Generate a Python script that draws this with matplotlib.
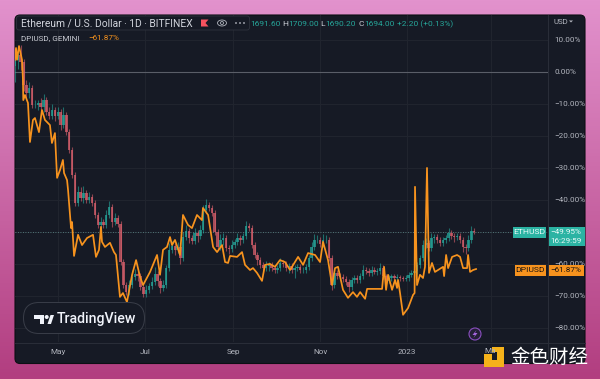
import numpy as np
import matplotlib
matplotlib.use("Agg")
import matplotlib.pyplot as plt
from matplotlib.patches import FancyBboxPatch, Rectangle, Circle, Polygon, Ellipse

plt.rcParams['font.family'] = ['Roboto', 'Noto Sans CJK SC', 'DejaVu Sans']

# ETH candles, one every 2 days, % change on the chart scale
eth_close = [3.8, 5.3, 3.1, -4, -6.5, -5, -10.3, -10.3, -9.7, -11,
             -8.8, -12.5, -13.8, -12, -13.8, -12.5, -16.5, -13.5, -18.8, -24.4,
             -32.2, -41, -37.5, -39.4, -37.8, -40, -39, -41, -44.7, -47.8,
             -46.9, -47.8, -44.7, -42.2, -46.9, -45.6, -47.5, -59.4, -66.6, -68.8,
             -66.6, -64, -63.1, -63.8, -67.2, -69.4, -68.1, -66.9, -65.6, -63.1,
             -65.3, -67.5, -66.6, -61.3, -55.6, -54.4, -55.6, -54.7, -58.1, -51.6,
             -49.7, -51.9, -52.8, -50.3, -51.2, -49.4, -43.1, -41.6, -42.5, -44,
             -50, -54.7, -52.5, -51.9, -55, -55.3, -54.1, -53.1, -51.9, -52.5,
             -51.2, -48.1, -48.8, -54.1, -57.2, -58.8, -60.3, -61.3, -60.6, -60.3,
             -61.3, -61.9, -61.3, -59.7, -60, -61.3, -60.6, -61.9, -61.3, -60.9,
             -61.9, -61.9, -60.9, -58.1, -54.7, -52.5, -52.5, -53.8, -52.5, -52.5,
             -58.1, -66.6, -62.8, -63.8, -64.1, -64.7, -65.6, -67.2, -65, -64.4,
             -65, -63.8, -61.9, -62.2, -62.8, -61.9, -62.5, -62.2, -61.3, -63.8,
             -65.3, -64.4, -63.8, -64.4, -64.1, -64.4, -64.7, -64.4, -63.4, -62.8,
             -62.2, -60.3, -58.1, -54.1, -53.4, -55, -51.9, -51.6, -52.5, -53.4,
             -52.5, -51.9, -50.3, -51.2, -51.6, -51.2, -52.5, -54.7, -55, -52.5,
             -49.7, -50]
eth_high_gap = [3.5, 2.5, 3, 1, 1.5, 2, 1, 1.5, 1, 1.5,
                2, 1, 1.5, 2, 1, 1.5, 1, 2.5, 1, 1,
                1, 1, 2, 1.5, 2, 1, 1.5, 1, 1, 1,
                1.5, 1, 1.5, 2, 1, 1.5, 1, 1, 1, 1,
                1.5, 2, 1.5, 1, 1, 1, 1.5, 1, 1.5, 2,
                1, 1, 1.5, 1, 2, 1.5, 1, 1.5, 1, 1.5,
                2, 1, 1, 1.5, 1, 1.5, 1.5, 2, 1, 1,
                1, 1, 2, 1.5, 1, 1, 1.5, 1, 1.5, 1,
                1, 1.5, 1, 1, 1, 1, 1, 1, 1.5, 1,
                1, 1, 1, 1.5, 1, 1, 1, 1, 1, 1,
                1, 0.8, 1, 1, 1.5, 2, 1.5, 1, 2, 1.5,
                1, 1, 1.5, 1, 1, 1, 1, 1, 1, 1,
                0.8, 1, 1.5, 1, 0.8, 1.2, 1, 0.8, 1.5, 1,
                0.8, 1, 0.8, 0.6, 0.8, 0.6, 0.6, 0.8, 0.8, 0.8,
                1, 1, 1, 1.5, 1.5, 1, 1.5, 1, 1, 1,
                1, 1, 1.5, 1, 1, 1, 1, 0.8, 1, 1.5,
                1.5, 1]
eth_low_gap = [5, 3, 2.5, 2, 1.5, 1.5, 1, 1, 1.5, 1,
               1.5, 1, 1, 1, 1.5, 1, 1.5, 1, 1, 1,
               1, 1, 1, 1, 1.5, 1, 1, 1, 1, 1,
               1, 1, 1, 1, 1.5, 1, 1, 1, 1, 1,
               1, 1, 1, 1.5, 1, 1, 1, 1, 1, 1,
               1.5, 1.5, 1, 1, 1, 1, 1.5, 1, 2, 1,
               1, 1.5, 1, 1, 2, 1, 1, 1, 1, 1,
               1, 1, 1, 1.5, 1, 1.5, 1, 1, 1, 1.5,
               1, 1, 1, 1, 1, 1.5, 1, 1, 1, 1.5,
               1, 1, 1, 1, 1, 1, 1.5, 1, 2.5, 1,
               1, 1, 1, 1, 1, 1, 1, 1, 1, 1,
               1, 1.5, 1, 1, 1, 1, 1, 1.5, 1, 1,
               1, 1, 1, 1, 1, 1, 0.8, 1, 1, 1,
               1, 0.8, 1, 0.8, 0.6, 0.8, 0.6, 0.6, 0.8, 0.8,
               1, 1, 1, 1, 1, 1, 1, 1.5, 1, 1,
               1, 1, 1, 1, 1.5, 1, 1, 1.5, 2, 1,
               1, 0.8]

# DPI line
dpi_days = [0, 0.7, 1.4, 2.8, 4.9, 5.6, 5.8, 7, 9.1, 10.5, 12.6, 14, 16.8, 18.9, 21, 24.5,
            25.9, 28, 29.5, 31.6, 33.6, 34.4, 36.5, 37.2, 39.3, 40, 41.4, 44.2, 47, 50.5,
            54.7, 56.8, 58.9, 60.3, 61, 63.1, 66.6, 69.4, 70.8, 73.6, 75.7, 78.5, 82.1,
            84.9, 87.7, 89.8, 94.7, 99.6, 101.7, 103.8, 106.6, 108.7, 110.1, 112.2, 115.7,
            117.8, 121.3, 124.1, 127.6, 131.1, 131.8, 135.4, 138.9, 141.7, 145.2, 147.3,
            149.4, 150.8, 155.7, 159.2, 161.3, 164.8, 166.9, 169.7, 173.2, 175.3, 178.8,
            182.3, 185.8, 189.3, 192.9, 198.5, 202, 205.5, 210.4, 213.9, 216, 219.5, 222.3,
            224.4, 226.5, 230, 233.5, 237, 239.8, 242, 245.5, 246.9, 257.4, 258.8, 260.2,
            261.6, 264.4, 266.5, 267.9, 268.6, 270, 272.1, 275.6, 279.1, 280.2, 280.5,
            281.9, 284, 286.1, 287.5, 288.9, 290.3, 292.4, 294.5, 300.2, 300.9, 302.3,
            303.7, 306.5, 310, 312.1, 314.2, 317, 317.7, 319.1, 321.2, 323.3]
dpi_pct = [3.8, 7.5, 3.8, 8.1, 3.8, -2.5, -8.8, -7.2, -9.7, -21.9, -15, -14.4, -18.8, -11.9, -15, -16.6,
           -22.2, -19.1, -33.1, -30.6, -27.5, -31.6, -33.8, -36.9, -48.8, -46.9, -57.5, -50.9, -54.1, -51.9,
           -50.9, -57.8, -55.6, -48.4, -53.1, -54.7, -53.4, -56.3, -57.2, -70.3, -69.1, -71.9, -63.4,
           -58.8, -64.1, -66.6, -62.5, -57.2, -63.4, -55.6, -54.7, -51.6, -54.1, -52.5, -57.2,
           -44.7, -47.8, -48.8, -44.7, -46.3, -42.5, -44.7, -54.7, -56.3, -54.1, -59.4,
           -59.7, -57.5, -57.8, -56.3, -60.3, -61.9, -61.3, -62.8, -65.3, -60.3, -60,
           -60.9, -58.8, -59.4, -61.9, -57.8, -60.3, -56.6, -57.2, -59.4, -53.1, -58.8, -66.6,
           -61.3, -60.9, -68.1, -70.6, -68.8, -70.3, -68.8, -70.9, -67.8, -67.8, -60.9, -68.1,
           -63.4, -68.1, -65, -67.5, -65, -69.1, -75.9, -73.8, -69.7, -69.1, -35.9,
           -66.6, -63.4, -64.4, -60.9, -30, -62.8, -59.7, -62.5, -60.9, -63.8, -57.2,
           -61.3, -57.8, -57.2, -57.8, -61.3, -61.3, -57.2, -62.5, -61.9, -61.6]

# the -50% label sits hidden under the ETHUSD tag in the original
y_ticks = [10, 0, -10, -20, -30, -40, -50, -60, -70, -80]
y_labels = ['10.00%', '0.00%', '−10.00%', '−20.00%', '−30.00%', '−40.00%', '', '−60.00%', '−70.00%', '−80.00%']
x_ticks = [30, 91, 153, 214, 275]
x_labels = ['May', 'Jul', 'Sep', 'Nov', '2023']

W, H = 600, 379
PANEL = '#161a25'
GRID = '#21252f'
TXT = '#b2b5be'
TEAL = '#26a69a'
RED = '#d9606c'
ORANGE = '#f7931e'

fig = plt.figure(figsize=(6, 3.79), dpi=100)

# background gradient + panel, in pixel coords
bg = fig.add_axes([0, 0, 1, 1], zorder=0)
bg.set_xlim(0, W)
bg.set_ylim(H, 0)
bg.axis('off')
top = np.array([226, 146, 205])
bot = np.array([178, 62, 128])
grad = np.linspace(0, 1, 200)[:, None, None] * (bot - top) + top
bg.imshow(grad.astype(np.uint8), extent=[0, W, H, 0], aspect='auto')
bg.add_patch(FancyBboxPatch((15, 15), 570, 348.5, boxstyle='round,pad=0,rounding_size=5',
                            fc=PANEL, ec='#0d0f14', lw=0.8))

# chart
ax = fig.add_axes([15 / W, 1 - 342 / H, 532.5 / W, 327 / H], zorder=1)
ax.patch.set_alpha(0)
ax.set_xlim(0, 373.4)
ax.set_ylim(-84.4, 17.8)
for s in ax.spines.values():
    s.set_visible(False)
ax.set_yticks(y_ticks)
ax.set_xticks(x_ticks + [334])
ax.set_yticklabels(y_labels)
ax.set_xticklabels(x_labels + [''])
ax.yaxis.tick_right()
ax.tick_params(length=0, labelsize=5.9, labelcolor=TXT)
ax.tick_params(axis='y', pad=5)
ax.tick_params(axis='x', pad=5)
for lab in ax.get_yticklabels():
    lab.set_ha('left')
ax.grid(color=GRID, lw=0.7)
ax.set_axisbelow(True)
ax.axhline(0, color='#5a5e68', lw=0.8, zorder=1)
ax.axhline(-49.95, color='#5f8f8e', lw=0.6, ls=(0, (1, 2)), zorder=1)

days = np.arange(len(eth_close)) * 2
prev = 2.0
for d, c, hg, lg in zip(days, eth_close, eth_high_gap, eth_low_gap):
    col = TEAL if c >= prev else RED
    ax.plot([d, d], [max(prev, c) + hg, min(prev, c) - lg], color=col, lw=0.8, alpha=0.6, zorder=2,
            solid_capstyle='butt')
    ax.bar(d, abs(c - prev), bottom=min(prev, c), width=1.7, color=col, alpha=0.75, zorder=2, lw=0)
    prev = c
ax.plot(dpi_days, dpi_pct, color=ORANGE, lw=1.25, zorder=3, solid_joinstyle='round')

# everything drawn on top of the chart
ov = fig.add_axes([0, 0, 1, 1], zorder=2)
ov.set_xlim(0, W)
ov.set_ylim(H, 0)
ov.axis('off')
ov.patch.set_alpha(0)
ov.plot([547.5, 547.5], [15, 363], color='#2a2e39', lw=0.7)
ov.plot([15, 585], [342.5, 342.5], color='#2a2e39', lw=0.7)

# legend
ov.add_patch(FancyBboxPatch((16.5, 16), 233, 14, boxstyle='round,pad=0,rounding_size=2.5',
                            fc=PANEL, ec='#2f333e', lw=0.6))
ov.text(21, 23.5, 'Ethereum / U.S. Dollar · 1D · BITFINEX', color='#d1d4dc', fontsize=7.35, va='center')
ov.add_patch(Polygon([(201, 19.5), (208.5, 19.5), (205.5, 23), (208.5, 26.5), (201, 26.5)], fc='#f7525f'))
ov.add_patch(Ellipse((222, 23), 9, 6, fc='none', ec='#b2b5be', lw=0.6))
ov.add_patch(Circle((222, 23), 1.5, fc='none', ec='#b2b5be', lw=0.6))
for dx in (236, 240, 244):
    ov.add_patch(Circle((dx, 23), 0.9, fc='#b2b5be'))
for tx, s, c in [(250, '1691.60', TEAL), (282, 'H', '#d1d4dc'), (288.5, '1709.00', TEAL),
                 (320.5, 'L', '#d1d4dc'), (325.5, '1690.20', TEAL), (358.5, 'C', '#d1d4dc'),
                 (364.5, '1694.00', TEAL), (397, '+2.20 (+0.13%)', TEAL)]:
    ov.text(tx, 24, s, color=c, fontsize=6.0, va='center')
ov.text(21, 38.5, 'DPIUSD, GEMINI', color='#c8cad2', fontsize=5.9, va='center')
ov.text(88, 38.5, '−61.87%', color=ORANGE, fontsize=5.9, va='center')
ov.text(553, 21.5, 'USD', color=TXT, fontsize=5.7, va='center')
ov.add_patch(Polygon([(569, 20.5), (573, 20.5), (571, 22.5)], fc=TXT))

# price tags
ov.add_patch(Rectangle((513, 227), 33, 10.5, fc='#2bb3a3'))
ov.add_patch(Rectangle((547.5, 226.5), 37.5, 19.5, fc='#2bb3a3'))
ov.text(529.5, 232.5, 'ETHUSD', color='#eafaf8', fontsize=6.1, ha='center', va='center')
ov.text(566, 232, '−49.95%', color='#eafaf8', fontsize=5.9, ha='center', va='center')
ov.text(566, 241, '16:29:59', color='#eafaf8', fontsize=5.9, ha='center', va='center')
ov.add_patch(Rectangle((515, 265), 31, 10.5, fc=ORANGE))
ov.add_patch(Rectangle((547.5, 265), 36.5, 10.5, fc=ORANGE))
ov.text(530.5, 270.5, 'DPIUSD', color='#1b1410', fontsize=6.1, ha='center', va='center')
ov.text(566, 270.5, '−61.87%', color='#1b1410', fontsize=5.9, ha='center', va='center')

# TradingView badge
ov.add_patch(FancyBboxPatch((23.5, 302.5), 121, 31, boxstyle='round,pad=0,rounding_size=15.5',
                            fc=PANEL, ec='#3a3e49', lw=0.7))
ov.add_patch(Polygon([(34, 315), (44, 315), (44, 324), (39.5, 324), (39.5, 319), (34, 319)], fc='#f0f3fa'))
ov.add_patch(Circle((46.7, 317), 2, fc='#f0f3fa'))
ov.add_patch(Polygon([(47.5, 324), (50.5, 315), (54, 315), (51, 324)], fc='#f0f3fa'))
ov.text(57, 319.5, 'TradingView', color='#f0f3fa', fontsize=10.2, fontweight='medium', va='center')

# lightning badge
ov.add_patch(Circle((475, 334), 6, fc='#241f35', ec='#8a4fc0', lw=0.8))
ov.add_patch(Polygon([(476.5, 330), (472.5, 335), (475, 335), (473.5, 338), (477.5, 333), (475, 333)], fc='#a565dd'))

# watermark, the Mar label is half covered by it
ov.text(484, 351, 'Ma', color=TXT, fontsize=5.9, va='center', clip_on=True)
GOLD = '#f5b21a'
ov.add_patch(Polygon([(497, 347), (504, 347), (504, 367), (484, 367), (484, 360), (497, 360)], fc=GOLD))
ov.add_patch(Rectangle((484, 354), 8, 6, fc=GOLD))
ov.add_patch(Rectangle((492, 347), 5, 5, fc=GOLD))
ov.text(510, 357, '金色财经', color='white', fontsize=14, va='center', family=['Noto Sans CJK SC', 'DejaVu Sans'])

fig.savefig('out.png', dpi=100)
